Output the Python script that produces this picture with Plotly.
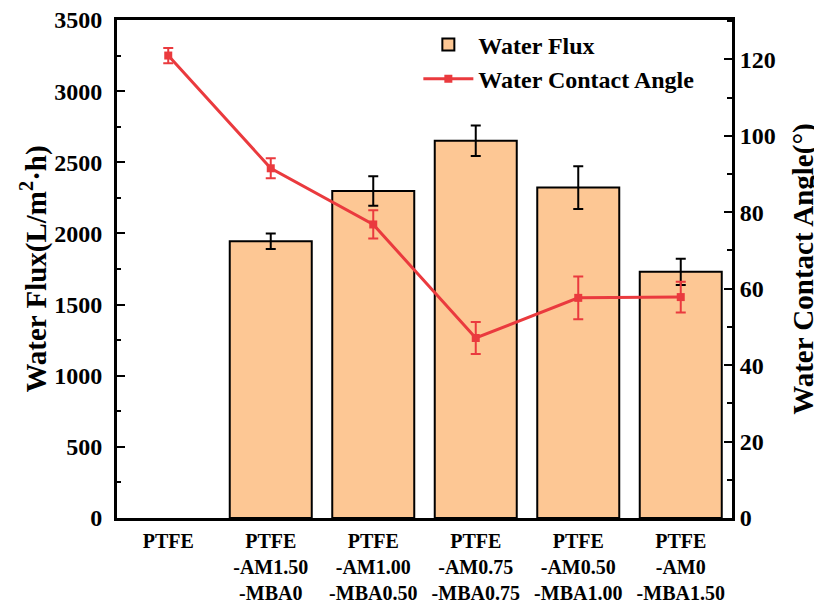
import plotly.graph_objects as go

categories = ["PTFE", "PTFE<br>-AM1.50<br>-MBA0", "PTFE<br>-AM1.00<br>-MBA0.50",
              "PTFE<br>-AM0.75<br>-MBA0.75", "PTFE<br>-AM0.50<br>-MBA1.00",
              "PTFE<br>-AM0<br>-MBA1.50"]
flux = [None, 1945, 2298, 2652, 2322, 1730]
flux_err = [None, 55, 103, 107, 150, 92]
angle = [121.0, 91.5, 76.8, 47.1, 57.6, 57.8]
angle_err = [2.0, 2.6, 3.7, 4.2, 5.6, 4.0]
x_idx = list(range(len(categories)))

FONT = "Liberation Serif"
BAR_FILL = "#FDC794"
RED = "#EA3A3E"

def bfont(size):
    return dict(family=FONT, size=size, color="black", weight="bold")

fig = go.Figure()
fig.add_trace(go.Bar(
    x=x_idx, y=flux, name="Water Flux", width=0.8,
    marker=dict(color=BAR_FILL, line=dict(color="black", width=2)),
    error_y=dict(type="data", array=flux_err, color="black", thickness=2, width=5),
    yaxis="y",
))
fig.add_trace(go.Scatter(
    x=x_idx, y=angle, name="Water Contact Angle", mode="lines+markers",
    line=dict(color=RED, width=3),
    marker=dict(symbol="square", size=8, color=RED),
    error_y=dict(type="data", array=angle_err, color=RED, thickness=2, width=5),
    yaxis="y2",
))

fig.update_layout(
    width=822, height=603,
    margin=dict(l=109, r=97.5, t=12, b=93, autoexpand=False),
    plot_bgcolor="white", paper_bgcolor="white",
    font=bfont(20),
    showlegend=True,
    legend=dict(x=0.49, y=0.995, xanchor="left", yanchor="top",
                bgcolor="rgba(0,0,0,0)", font=bfont(24),
                itemwidth=50, tracegroupgap=0),
    xaxis=dict(
        range=[-0.5, 5.5], tickmode="array", tickvals=x_idx,
        ticktext=categories,
        tickfont=bfont(20),
        showline=True, linecolor="black", linewidth=3, mirror=True,
        ticks="", showgrid=False, zeroline=False, ticklabelstandoff=3,
        automargin=False,
    ),
    yaxis=dict(
        range=[0, 3500], dtick=500, tick0=0,
        showline=True, linecolor="black", linewidth=3,
        ticks="inside", ticklen=8, tickwidth=2, tickcolor="black",
        minor=dict(ticks="inside", ticklen=4, tickwidth=2, dtick=250, tickcolor="black"),
        tickfont=bfont(24), tickformat="d", ticklabelstandoff=7,
        ticklabeloverflow="allow",
        showgrid=False, zeroline=False, automargin=False,
        title=dict(text="Water Flux(L/m<sup>2</sup>·h)", font=bfont(29), standoff=0),
    ),
    yaxis2=dict(
        range=[0, 130.3], dtick=20, tick0=0, overlaying="y", side="right",
        showline=True, linecolor="black", linewidth=3,
        ticks="inside", ticklen=8, tickwidth=2, tickcolor="black",
        minor=dict(ticks="inside", ticklen=5, tickwidth=2, dtick=10, tickcolor="black"),
        tickfont=bfont(24), ticklabeloverflow="allow",
        showgrid=False, zeroline=False, automargin=False,
        title=dict(text="Water Contact Angle(°)", font=bfont(29), standoff=18),
    ),
)

fig.write_html("out.html")
